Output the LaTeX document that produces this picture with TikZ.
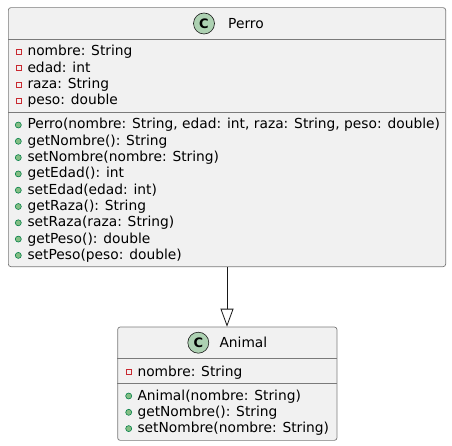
\documentclass[tikz,border=0pt]{standalone}
\usepackage{fontspec}
\setmainfont{DejaVu Sans}
\usetikzlibrary{arrows.meta}
\definecolor{fondoclase}{HTML}{F1F1F1}
\definecolor{borde}{HTML}{181818}
\definecolor{bordeclase}{HTML}{7A7A7A}
\definecolor{fondospot}{HTML}{ADD1B2}
\definecolor{rojopriv}{HTML}{C82930}
\definecolor{verdepub}{HTML}{84BE84}
\definecolor{bordepub}{HTML}{038048}
\tikzset{
  clase/.style={draw=bordeclase, fill=fondoclase, line width=0.7pt, rounded corners=2.5pt, inner sep=0pt, anchor=north west},
  linea/.style={draw=bordeclase, line width=0.7pt},
  spot/.style={circle, draw=borde, fill=fondospot, line width=0.6pt, minimum size=21pt, inner sep=0pt, font=\fontsize{13}{13}\selectfont\bfseries},
  texto/.style={anchor=base west, inner sep=0pt, font=\fontsize{13.8}{16}\selectfont},
  priv/.style={draw=rojopriv, line width=0.6pt, minimum size=5pt, inner sep=0pt},
  pub/.style={circle, draw=bordepub, fill=verdepub, line width=0.6pt, minimum size=6pt, inner sep=0pt},
  herencia/.style={draw=borde, line width=0.8pt, -{Triangle[open, length=18pt, width=13pt]}}
}
\begin{document}
\begin{tikzpicture}[x=1pt,y=-1pt]
			\fill[white] (0,0) rectangle (452,446);
			% clase Perro
			\node[clase, minimum width=437.3pt, minimum height=259pt] (perro) at (8,7.3) {};
			\draw[linea] (8,39.3)--(445.3,39.3);
			\draw[linea] (8,112.7)--(445.3,112.7);
			\node[spot] (perroC) at (204,23.5) {C};
			\node[texto] (perroT) at (228,28.5) {Perro};
			\node[priv] (pa1m) at (18.3,52) {};
			\node[texto] (pa1) at (27.3,56) {nombre: String};
			\node[priv] (pa2m) at (18.3,68.3) {};
			\node[texto] (pa2) at (27.3,72.3) {edad: int};
			\node[priv] (pa3m) at (18.3,84.6) {};
			\node[texto] (pa3) at (27.3,88.6) {raza: String};
			\node[priv] (pa4m) at (18.3,100.9) {};
			\node[texto] (pa4) at (27.3,104.9) {peso: double};
			\node[pub] (pm1m) at (18.3,125) {};
			\node[texto] (pm1) at (27.3,129) {Perro(nombre: String, edad: int, raza: String, peso: double)};
			\node[pub] (pm2m) at (18.3,141.3) {};
			\node[texto] (pm2) at (27.3,145.3) {getNombre(): String};
			\node[pub] (pm3m) at (18.3,157.6) {};
			\node[texto] (pm3) at (27.3,161.6) {setNombre(nombre: String)};
			\node[pub] (pm4m) at (18.3,173.9) {};
			\node[texto] (pm4) at (27.3,177.9) {getEdad(): int};
			\node[pub] (pm5m) at (18.3,190.2) {};
			\node[texto] (pm5) at (27.3,194.2) {setEdad(edad: int)};
			\node[pub] (pm6m) at (18.3,206.5) {};
			\node[texto] (pm6) at (27.3,210.5) {getRaza(): String};
			\node[pub] (pm7m) at (18.3,222.8) {};
			\node[texto] (pm7) at (27.3,226.8) {setRaza(raza: String)};
			\node[pub] (pm8m) at (18.3,239.1) {};
			\node[texto] (pm8) at (27.3,243.1) {getPeso(): double};
			\node[pub] (pm9m) at (18.3,255.4) {};
			\node[texto] (pm9) at (27.3,259.4) {setPeso(peso: double)};
			% clase Animal
			\node[clase, minimum width=219.3pt, minimum height=113.3pt] (animal) at (117.3,326.7) {};
			\draw[linea] (117.3,358.7)--(336.6,358.7);
			\draw[linea] (117.3,383.3)--(336.6,383.3);
			\node[spot] (animalC) at (198.3,342.7) {C};
			\node[texto] (animalT) at (219.3,347.7) {Animal};
			\node[priv] (aa1m) at (128.7,372) {};
			\node[texto] (aa1) at (137.3,376) {nombre: String};
			\node[pub] (am1m) at (128.7,396) {};
			\node[texto] (am1) at (137.3,400) {Animal(nombre: String)};
			\node[pub] (am2m) at (128.7,412.3) {};
			\node[texto] (am2) at (137.3,416.3) {getNombre(): String};
			\node[pub] (am3m) at (128.7,428.6) {};
			\node[texto] (am3) at (137.3,432.6) {setNombre(nombre: String)};
			% herencia
			\draw[herencia] (perro.south)--(perro.south |- animal.north);
		\end{tikzpicture}
\end{document}
